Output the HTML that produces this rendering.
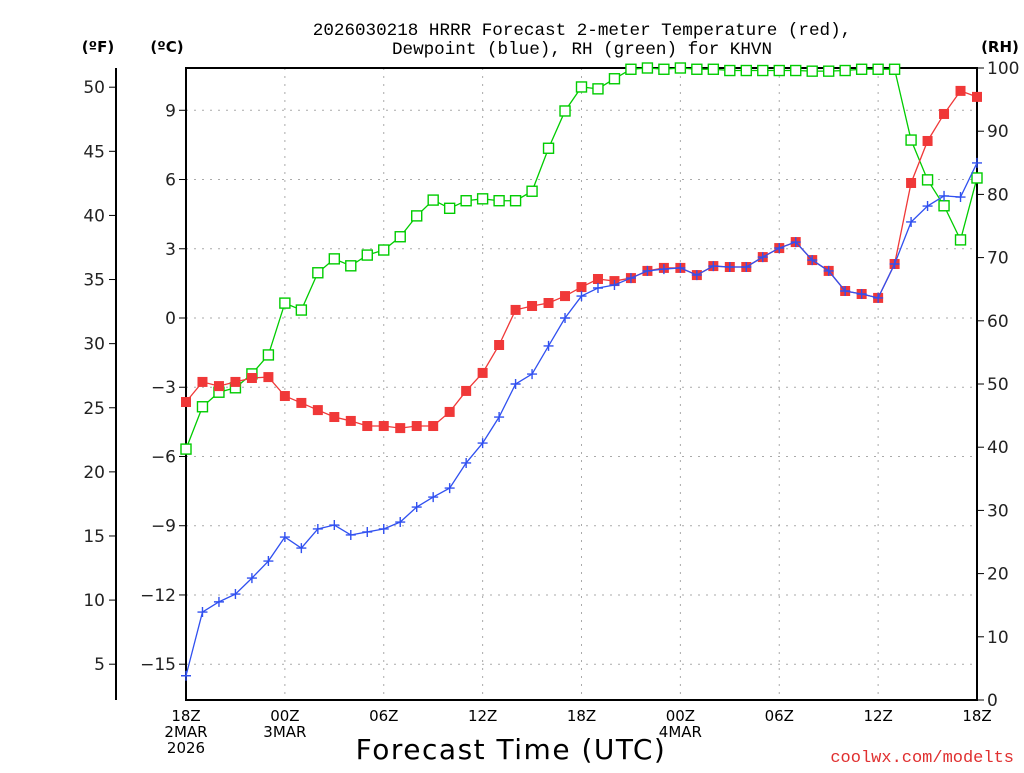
<!DOCTYPE html>
<html><head><meta charset="utf-8"><style>
body{margin:0;background:#fff;}
svg text{font-family:"DejaVu Sans","Liberation Sans",sans-serif;}
</style></head><body>
<svg id="chart" width="1024" height="768" xmlns="http://www.w3.org/2000/svg">
<text x="582" y="35" text-anchor="middle" font-size="17.6" fill="#000" style="font-family:'Liberation Mono',monospace">2026030218 HRRR Forecast 2-meter Temperature (red),</text>
<text x="582" y="54" text-anchor="middle" font-size="17.6" fill="#000" style="font-family:'Liberation Mono',monospace">Dewpoint (blue), RH (green) for KHVN</text>
<text x="98" y="52" text-anchor="middle" font-size="15" font-weight="bold">(ºF)</text>
<text x="167" y="52" text-anchor="middle" font-size="15" font-weight="bold">(ºC)</text>
<text x="1000" y="52" text-anchor="middle" font-size="15" font-weight="bold">(RH)</text>
<g id="grid"></g><g id="axes"></g><g id="series"></g>
<text x="511" y="759" text-anchor="middle" font-size="28" fill="#000" letter-spacing="1.5">Forecast Time (UTC)</text>
<text x="1014" y="762" text-anchor="end" font-size="17" fill="#e03030" style="font-family:'Liberation Mono',monospace">coolwx.com/modelts</text>
</svg>
<script>
const temps=[-3.64,-2.77,-2.95,-2.77,-2.6,-2.56,-3.38,-3.68,-3.99,-4.29,-4.46,-4.68,-4.68,-4.77,-4.68,-4.68,-4.07,-3.16,-2.38,-1.17,0.35,0.52,0.65,0.95,1.34,1.69,1.6,1.73,2.04,2.17,2.17,1.86,2.25,2.21,2.21,2.64,3.03,3.29,2.51,2.04,1.17,1.04,0.87,2.34,5.85,7.67,8.84,9.84,9.58];
const dewpoints=[-15.5,-12.74,-12.3,-11.96,-11.27,-10.53,-9.49,-9.97,-9.14,-8.97,-9.4,-9.27,-9.14,-8.84,-8.19,-7.76,-7.37,-6.28,-5.42,-4.29,-2.86,-2.43,-1.21,0,0.95,1.3,1.43,1.73,2.04,2.12,2.17,1.86,2.25,2.21,2.21,2.64,3.03,3.29,2.51,2.04,1.17,1.04,0.87,2.34,4.16,4.85,5.29,5.24,6.72];
const rh=[39.7,46.4,48.7,49.4,51.6,54.6,62.8,61.7,67.6,69.8,68.7,70.4,71.2,73.3,76.6,79.1,77.8,79,79.3,79,79,80.5,87.3,93.2,97,96.7,98.3,99.8,100,99.8,100,99.8,99.8,99.6,99.6,99.6,99.6,99.6,99.5,99.5,99.6,99.8,99.8,99.8,88.6,82.3,78.2,72.8,82.6];
const cTicks=[-15,-12,-9,-6,-3,0,3,6,9];
const fTicks=[5,10,15,20,25,30,35,40,45,50];
const rhTicks=[0,10,20,30,40,50,60,70,80,90,100];
const xHours=[0,6,12,18,24,30,36,42,48];
const xLabels=[["18Z","2MAR","2026"],["00Z","3MAR"],["06Z"],["12Z"],["18Z"],["00Z","4MAR"],["06Z"],["12Z"],["18Z"]];
const L=186,R=977,T=68,B=700;
const xs=h=>L+(R-L)*h/48;
const yC=c=>318-c*23.08;
const yF=f=>yC((f-32)*5/9);
const yR=r=>B-(B-T)*r/100;
const NS="http://www.w3.org/2000/svg";
function mk(p,tag,at){const e=document.createElementNS(NS,tag);for(const k in at)e.setAttribute(k,at[k]);p.appendChild(e);return e;}
const grid=document.getElementById('grid'),axes=document.getElementById('axes'),ser=document.getElementById('series');
xHours.forEach((h,i)=>{if(h>0&&h<48){const l=mk(grid,'line',{x1:xs(h),x2:xs(h),y1:T,y2:B,stroke:'#aaa','stroke-dasharray':'2,6'});

}
xLabels[i].forEach((s,j)=>{const t=mk(axes,'text',{x:xs(h),y:721+j*16,'text-anchor':'middle','font-size':15,fill:'#000'});t.textContent=s;

});});
cTicks.forEach(c=>{const y=yC(c);const l=mk(grid,'line',{x1:L,x2:R,y1:y,y2:y,stroke:'#aaa','stroke-dasharray':'2,6'});


mk(axes,'line',{x1:L-7,x2:L,y1:y,y2:y,stroke:'#000'});
const t=mk(axes,'text',{x:L-10,y:y+6,'text-anchor':'end','font-size':17,fill:'#222'});t.textContent=(c<0?'\u2212'+(-c):c);

});
fTicks.forEach(f=>{const y=yF(f);mk(axes,'line',{x1:109,x2:116,y1:y,y2:y,stroke:'#000'});
const t=mk(axes,'text',{x:105,y:y+6,'text-anchor':'end','font-size':17,fill:'#222'});t.textContent=f;

});
rhTicks.forEach(r=>{const y=yR(r);mk(axes,'line',{x1:R,x2:R+7,y1:y,y2:y,stroke:'#000'});
const t=mk(axes,'text',{x:R+10,y:y+6,'text-anchor':'start','font-size':17,fill:'#222'});t.textContent=r;

});
mk(axes,'line',{x1:116,x2:116,y1:T,y2:B,stroke:'#000','stroke-width':2});
const fr=mk(axes,'path',{d:`M${L},${T}H${R}V${B}H${L}Z`,fill:'none',stroke:'#000','stroke-width':2});


function series(vals,yf,color,marker,name){
 const pts=vals.map((v,i)=>[xs(i),yf(v)]);
 const pl=mk(ser,'polyline',{points:pts.map(p=>p.join(',')).join(' '),fill:'none',stroke:color,'stroke-width':1.3});
 
 
 pts.forEach(p=>{let m;
  if(marker==='fill')m=mk(ser,'rect',{x:p[0]-5,y:p[1]-5,width:10,height:10,fill:color});
  else if(marker==='open')m=mk(ser,'rect',{x:p[0]-5,y:p[1]-5,width:10,height:10,fill:'#fff',stroke:color,'stroke-width':1.4});
  else m=mk(ser,'path',{d:`M${p[0]-5},${p[1]}h10M${p[0]},${p[1]-5}v10`,stroke:color,'stroke-width':1.4});
  
  });
}
series(rh,yR,'#00cc00','open','rh');
series(temps,yC,'#f03838','fill','temperature');
series(dewpoints,yC,'#3050f0','plus','dewpoint');
</script>
</body></html>
